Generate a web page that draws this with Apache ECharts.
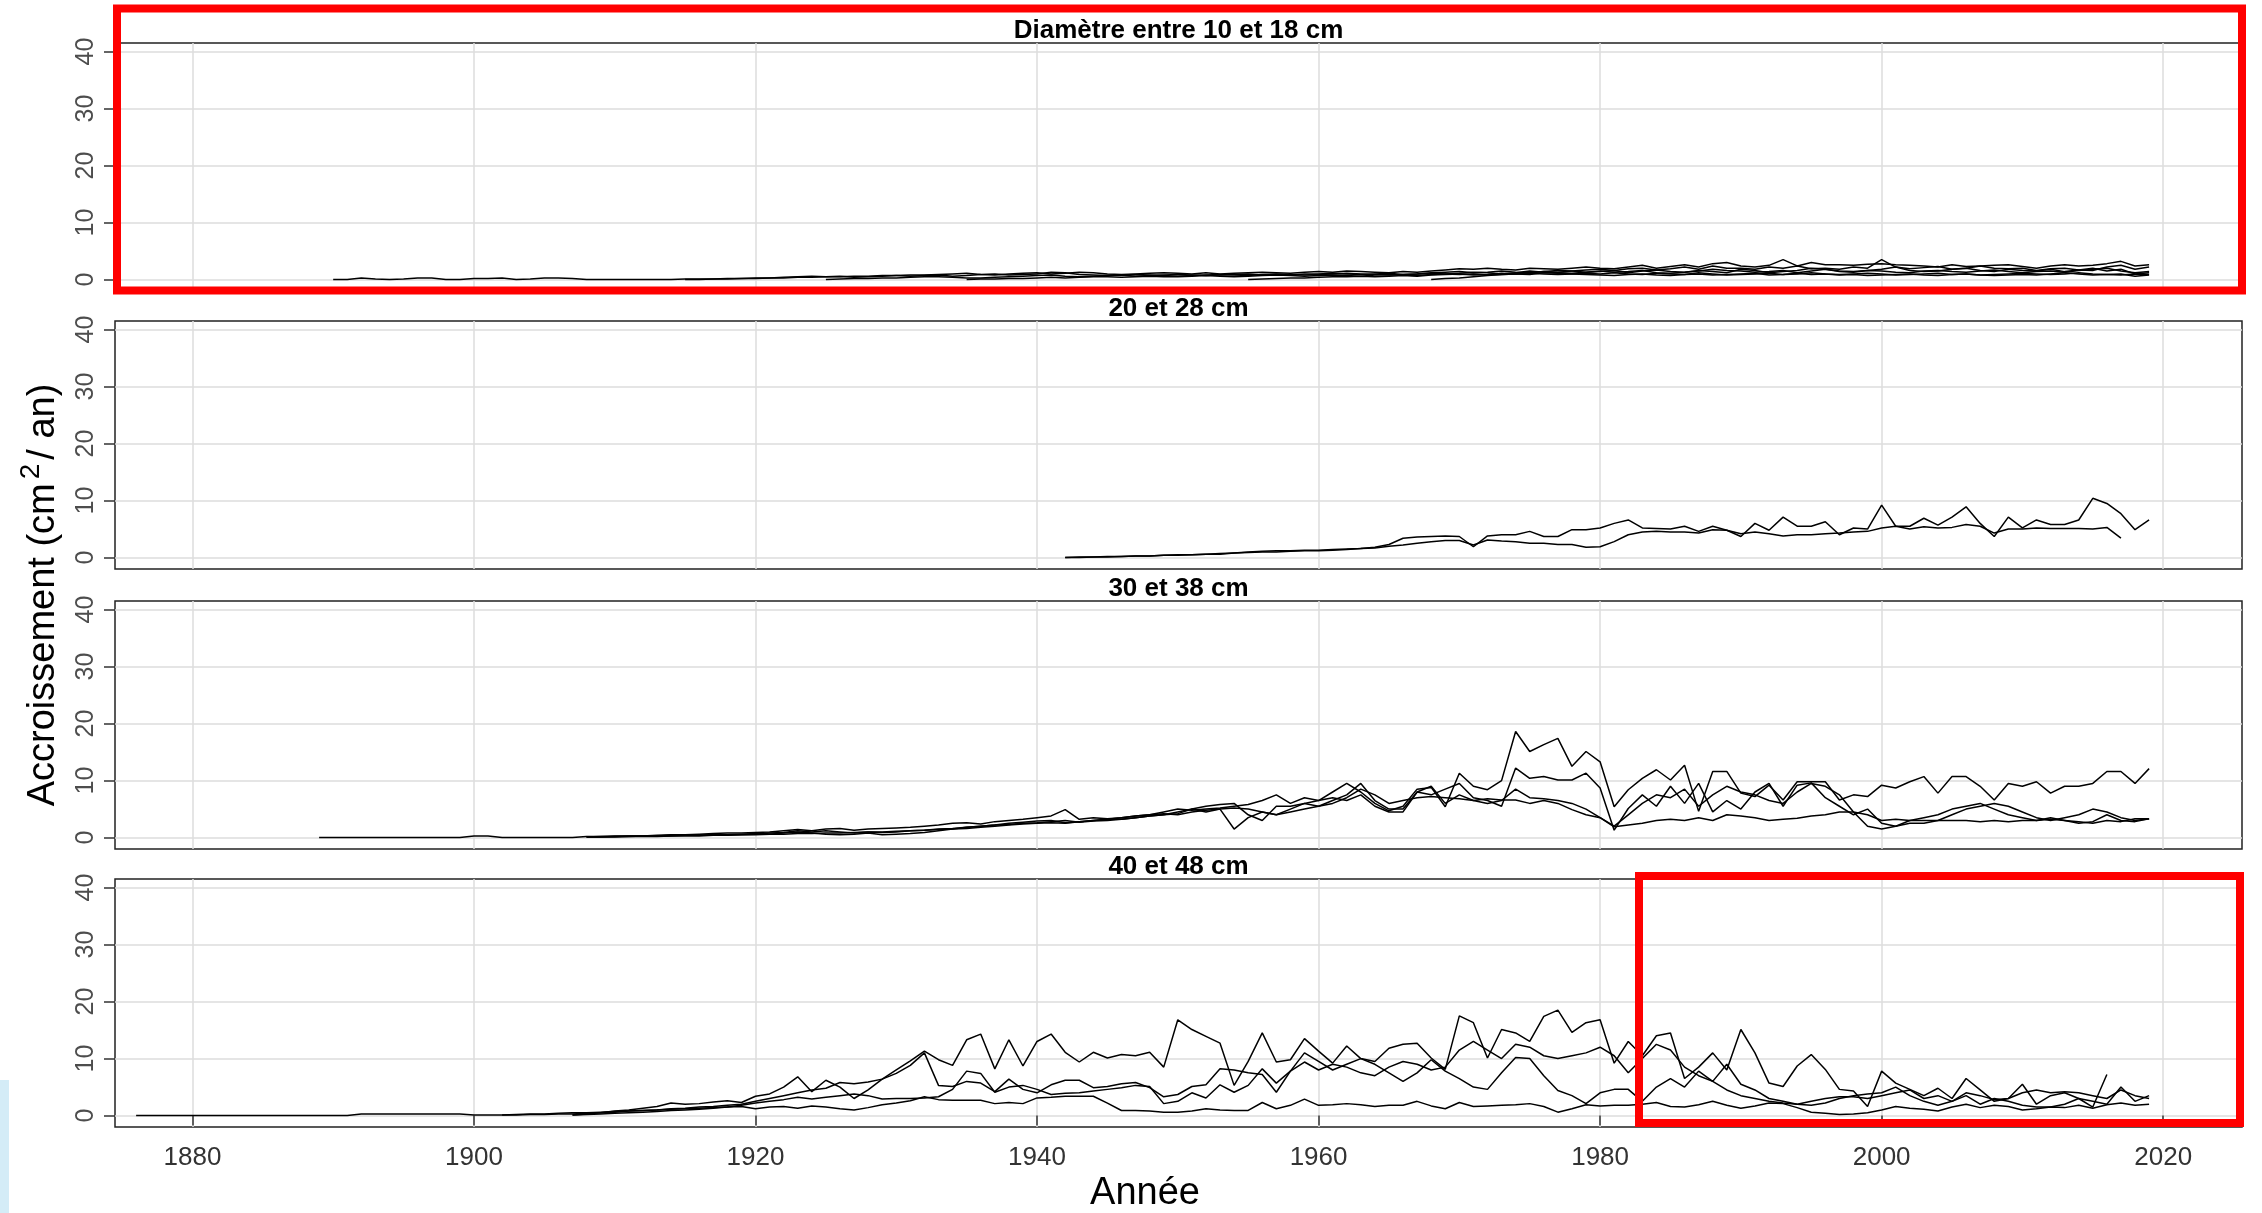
<!DOCTYPE html>
<html>
<head>
<meta charset="utf-8">
<script src="https://cdn.jsdelivr.net/npm/echarts@6/dist/echarts.min.js"></script>
<style>
html,body{margin:0;padding:0;background:#fff;}
#chart{width:2262px;height:1213px;}
</style>
</head>
<body>
<div id="chart"></div>
<script>
// ---------- tick labels & titles ----------
const xTicks = [1880, 1900, 1920, 1940, 1960, 1980, 2000, 2020];
const yTicks = [0, 10, 20, 30, 40];
const panelTitles = ['Diamètre entre 10 et 18 cm', '20 et 28 cm', '30 et 38 cm', '40 et 48 cm'];
const xTitle = 'Année';

// ---------- Panel 1 : 10-18 cm (start years + yearly values) ----------
const p1Starts = [1890, 1915, 1925, 1935, 1955, 1968];
const p1a = [0.0,0.0,0.3,0.1,0.0,0.1,0.3,0.3,0.0,0.0,
  0.2,0.2,0.3,0.0,0.1,0.3,0.3,0.2,0.0,0.0,
  0.0,0.0,0.0,0.0,0.0,0.1,0.1,0.1,0.2,0.2,
  0.3,0.3,0.4,0.5,0.6,0.5,0.6,0.4,0.5,0.6,
  0.7,0.8,0.8,0.9,1.0,1.1,0.9,0.8,1.0,1.1,
  1.2,1.0,1.1,1.3,1.2,1.0,0.9,1.0,1.1,1.2,
  1.1,1.0,1.2,1.0,1.1,1.2,1.3,1.2,1.1,1.3,
  1.4,1.3,1.5,1.4,1.3,1.2,1.4,1.3,1.5,1.7,
  1.9,1.8,2.0,1.8,1.7,2.0,1.9,1.8,2.0,2.2,
  2.0,1.9,2.2,2.5,2.0,2.3,2.6,2.2,2.8,3.0,
  2.4,2.2,2.5,3.5,2.4,3.0,2.6,2.6,2.5,2.7,
  2.8,2.6,2.5,2.4,2.2,2.6,2.3,2.4,2.5,2.6,
  2.3,2.0,2.4,2.6,2.4,2.5,2.8,3.2,2.4,2.6];
const p1b = [0,0,0.1,0.1,0.2,
  0.2,0.3,0.3,0.4,0.4,0.5,0.5,0.6,0.6,0.7,
  0.7,0.6,0.7,0.8,0.6,0.7,0.9,1.0,0.8,0.9,
  1.0,1.3,1.2,0.9,0.8,0.7,0.8,0.6,0.7,0.8,
  0.9,0.8,0.7,0.8,0.9,1.0,0.8,0.9,0.8,1.0,
  1.0,1.1,1.0,0.9,1.0,1.1,0.9,1.0,1.2,1.3,
  1.4,1.2,1.3,1.5,1.3,1.2,1.4,1.6,1.5,1.3,
  1.4,1.6,1.2,1.5,1.7,1.4,1.3,1.5,1.8,1.6,
  1.5,1.3,1.4,1.6,1.2,1.5,1.8,1.4,1.3,1.6,
  1.5,1.3,1.2,1.5,1.6,1.4,1.3,1.5,1.7,1.4,
  1.2,1.4,1.5,1.3,1.6,1.8,2.0,1.5,1.2,1.4];
const p1c = [0,0.1,0.2,0.2,0.3,
  0.3,0.4,0.5,0.5,0.4,0.3,0.3,0.4,0.5,0.6,
  0.7,0.8,0.6,0.5,0.6,0.7,0.8,0.9,0.8,0.7,
  0.6,0.7,0.8,0.9,0.8,0.7,0.9,1.0,0.9,0.8,
  0.9,1.0,1.1,1.0,0.9,0.8,0.9,1.0,1.1,1.0,
  0.9,1.0,0.8,0.9,1.0,1.1,1.0,0.9,1.0,1.1,
  1.0,1.2,1.0,0.9,1.1,1.0,0.9,1.2,1.0,0.8,
  0.9,1.0,1.1,0.9,1.0,1.2,1.0,0.9,1.0,1.1,
  1.0,0.8,0.9,1.0,1.1,0.9,1.0,0.8,0.9,1.0,
  1.1,1.0,0.9,1.0,1.2,1.0,0.9,0.8,1.0,0.9];
const p1d = [0,0.1,0.1,0.2,0.2,
  0.3,0.4,0.3,0.4,0.5,0.5,0.4,0.5,0.6,0.5,
  0.5,0.6,0.7,0.6,0.5,0.6,0.7,0.8,0.7,0.6,
  0.7,0.8,0.7,0.6,0.8,0.9,0.8,0.7,0.9,1.0,
  1.1,1.3,1.2,1.0,1.2,1.5,1.3,1.2,1.1,1.3,
  1.5,1.3,1.4,1.6,1.2,1.1,1.3,1.6,1.4,1.2,
  1.8,1.6,1.2,1.4,1.6,2.0,1.8,1.5,1.4,1.6,
  1.8,2.2,1.6,1.4,1.5,1.8,2.0,1.6,1.4,1.8,
  1.6,1.5,1.8,1.4,1.7,2.0,1.5,1.8,1.0,1.2];
const p1e = [0,0.1,0.2,0.3,0.3,
  0.4,0.5,0.5,0.6,0.5,0.6,0.7,0.6,0.8,0.9,
  1.0,0.8,0.9,1.1,1.0,0.9,1.2,1.1,1.0,0.9,
  0.8,0.7,0.9,1.0,0.8,0.7,0.9,1.0,0.8,0.9,
  1.0,1.1,0.8,0.9,1.1,0.9,1.0,0.8,0.9,0.7,
  0.8,0.9,1.0,0.8,0.7,0.9,1.0,0.8,0.7,0.8,
  0.9,0.8,1.0,1.2,1.0,0.8,0.9,1.0,0.6,0.8];
const p1f = [0,0.2,
  0.3,0.5,0.7,0.9,1.0,1.2,1.4,1.3,1.5,1.7,
  1.8,1.6,1.9,2.0,1.7,1.9,2.2,1.8,2.4,2.0,
  2.0,1.8,2.2,2.0,2.4,1.9,2.0,1.8,2.2,2.0,
  3.5,2.2,1.9,2.1,2.3,1.8,2.0,2.4,2.0,1.9,
  2.0,1.6,1.9,2.0,1.7,1.6,2.2,2.5,1.8,2.2];

// ---------- Panel 2 : 20-28 cm ----------
const p2Starts = [1942, 1942];
const p2a = [0,0.1,0.1,0.2,0.2,0.3,0.3,0.4,
  0.5,0.5,0.6,0.6,0.8,1.0,1.1,1.2,1.2,1.3,
  1.3,1.4,1.5,1.6,1.8,2.3,3.4,3.6,3.7,3.8,
  3.7,1.9,3.8,4.0,4.0,4.6,3.7,3.7,4.9,4.9,
  5.2,6.0,6.6,5.2,5.1,5.0,5.5,4.6,5.5,4.8,
  3.7,6.0,4.8,7.1,5.5,5.5,6.3,4.0,5.2,5.0,
  9.2,5.5,5.5,6.9,5.7,7.1,8.9,6.0,3.7,7.1,
  5.2,6.6,5.8,5.8,6.6,10.4,9.5,7.7,4.9,6.6];
const p2b = [0,0,0.1,0.1,0.2,0.3,0.3,0.4,
  0.4,0.5,0.6,0.7,0.8,0.9,1.0,1.0,1.1,1.2,
  1.2,1.3,1.4,1.6,1.7,2.0,2.2,2.5,2.8,3.0,
  3.0,2.2,3.1,2.9,2.8,2.5,2.5,2.3,2.3,1.8,
  1.9,2.8,4.0,4.5,4.6,4.5,4.5,4.3,4.9,4.8,
  4.2,4.5,4.2,3.8,4.0,4.0,4.2,4.3,4.5,4.6,
  5.2,5.5,5.0,5.4,5.2,5.3,5.8,5.5,4.3,5.0,
  5.0,5.2,5.1,5.1,5.1,5.0,5.3,3.4];

// ---------- Panel 3 : 30-38 cm ----------
const p3Starts = [1908, 1908, 1889, 1908];
const p3a = [0.1,0.2,
  0.2,0.3,0.3,0.4,0.5,0.5,0.6,0.7,0.8,0.8,
  0.9,1.0,1.2,1.4,1.2,1.5,1.6,1.3,1.5,1.6,
  1.7,1.8,2.0,2.2,2.5,2.6,2.4,2.8,3.0,3.2,
  3.5,3.8,4.9,3.2,3.5,3.3,3.5,3.8,4.0,4.5,
  5.0,4.8,5.0,5.2,5.5,5.8,6.5,7.5,6.0,7.0,
  6.5,8.0,9.5,8.0,6.0,4.7,5.5,8.5,8.8,5.4,
  11.3,9.0,8.4,10.0,18.6,15.1,16.3,17.4,12.5,15.1,
  13.3,5.4,8.4,10.4,11.9,10.1,12.7,4.6,11.6,11.6,
  7.8,7.2,9.2,6.6,9.8,9.8,9.8,6.6,7.5,7.2,
  9.2,8.7,9.8,10.7,7.8,10.7,10.7,9.0,6.6,9.5,
  9.0,9.8,7.8,9.0,9.0,9.5,11.6,11.6,9.5,12.1];
const p3b = [0.1,0.1,
  0.2,0.2,0.3,0.3,0.3,0.4,0.4,0.5,0.5,0.6,
  0.7,0.6,0.8,1.0,0.8,0.6,0.5,0.6,0.8,0.5,
  0.6,0.7,0.9,1.2,1.5,1.8,2.0,2.2,2.5,2.7,
  2.9,3.0,2.6,2.8,3.0,3.2,3.2,3.5,3.8,4.0,
  4.5,5.0,4.5,5.0,1.5,3.5,4.5,4.0,5.0,6.0,
  5.5,6.5,7.5,9.5,6.5,5.0,5.0,8.0,7.5,8.5,
  9.5,7.0,6.5,5.5,12.2,10.4,10.7,10.1,10.1,11.3,
  8.7,1.3,5.1,7.5,5.5,9.0,6.0,9.5,4.5,6.5,
  5.0,8.0,9.5,5.5,9.2,9.6,7.0,5.5,4.0,5.0,
  2.5,2.0,3.0,3.5,4.0,5.0,5.5,6.0,5.0,4.0,
  3.5,3.0,3.5,3.0,2.5,2.8,4.0,3.0,2.8,3.3];
const p3c = [0,
  0,0,0,0,0,0,0,0,0,0,
  0.3,0.3,0,0,0,0,0,0,0.2,0.2,
  0.3,0.3,0.3,0.3,0.4,0.4,0.4,0.5,0.5,0.5,
  0.6,0.8,0.9,1.2,1.0,1.2,1.0,0.8,1.0,0.9,
  1.0,1.2,1.3,1.5,1.6,1.8,2.0,2.2,2.3,2.5,
  2.6,2.8,3.0,2.7,2.9,3.0,3.2,3.5,3.8,4.0,
  4.2,5.0,5.5,5.8,6.0,4.0,3.0,5.5,5.5,6.0,
  6.5,7.0,6.5,7.5,5.5,4.5,4.5,8.0,9.0,6.0,
  7.5,6.5,6.0,6.5,8.5,7.0,6.8,6.5,6.0,5.0,
  3.5,2.0,4.0,6.0,7.5,7.0,8.5,5.5,7.5,9.0,
  8.0,7.5,6.5,6.0,8.0,9.5,9.0,7.5,4.5,2.0,
  1.5,2.0,2.5,2.5,3.0,4.0,5.0,5.5,6.0,5.5,
  4.5,3.5,3.0,3.5,4.0,5.0,4.5,3.5,3.0,3.3];
const p3d = [0.1,0.1,
  0.1,0.2,0.2,0.2,0.3,0.3,0.3,0.4,0.4,0.5,
  0.5,0.6,0.6,0.7,0.7,0.8,0.8,0.9,1.0,1.0,
  1.1,1.2,1.3,1.4,1.5,1.6,1.8,2.0,2.2,2.4,
  2.5,2.6,2.5,2.8,3.0,3.2,3.5,3.8,4.0,4.2,
  4.0,4.5,4.8,5.0,5.2,5.0,4.5,4.0,4.5,5.0,
  5.5,6.0,7.0,8.5,7.5,6.0,6.5,7.0,7.2,7.0,
  6.8,6.5,6.8,6.6,6.6,6.0,6.5,6.0,4.9,4.0,
  3.5,1.9,2.2,2.5,3.0,3.2,3.0,3.5,3.0,4.0,
  3.8,3.5,3.0,3.2,3.4,3.8,4.0,4.5,4.5,4.0,
  3.0,3.2,3.0,3.0,3.0,3.0,3.0,2.8,3.0,2.8,
  3.0,3.0,3.2,3.0,2.8,2.5,3.0,2.8,3.3,3.3];

// ---------- Panel 4 : 40-48 cm ----------
const p4Starts = [1876, 1907, 1902, 1907];
const p4a = [0,0,0,0,
  0,0,0,0,0,0,0,0,0,0,
  0,0,0.3,0.3,0.3,0.3,0.3,0.3,0.3,0.3,
  0.1,0.1,0.1,0.2,0.3,0.3,0.4,0.5,0.5,0.6,
  0.7,0.8,0.9,1.0,1.1,1.2,1.3,1.4,1.5,1.6,
  1.2,1.5,1.6,1.3,1.7,1.5,1.2,1.0,1.4,1.9,
  2.2,2.6,3.3,2.8,2.7,2.7,2.7,2.1,2.3,2.1,
  3.1,3.2,3.4,3.4,3.4,2.2,0.9,0.9,0.8,0.6,
  0.6,0.8,1.2,1.0,0.9,0.9,2.3,1.2,1.8,2.9,
  1.8,1.9,2.1,1.9,1.6,1.8,1.8,2.5,1.7,1.2,
  2.3,1.6,1.7,1.8,1.9,2.1,1.6,0.6,1.2,1.9,
  1.7,1.8,1.8,2.0,2.3,1.6,1.5,1.9,2.5,1.8,
  1.3,1.7,2.2,2.1,1.4,0.6,0.4,0.2,0.3,0.5,
  1.0,1.6,1.3,1.1,0.8,1.5,2.0,1.4,1.8,1.6,
  1.0,1.2,1.5,1.4,1.8,1.3,1.9,2.2,1.8,2.0];
const p4b = [0.1,0.3,0.5,
  0.8,1.0,1.3,1.6,2.2,2.0,2.1,2.4,2.6,2.3,
  3.4,3.8,5.0,6.8,4.2,6.2,5.0,3.0,4.5,6.4,
  8.0,9.6,11.3,9.8,8.8,13.3,14.3,8.2,13.3,8.7,
  13.0,14.3,11.1,9.4,11.1,10.1,10.7,10.5,11.1,8.5,
  16.8,15.1,13.9,12.7,5.3,9.5,14.5,9.4,9.8,13.5,
  11.3,9.2,12.2,10.0,9.5,11.8,12.5,12.7,10.1,8.1,
  17.5,16.3,10.1,15.1,14.5,13.0,17.4,18.5,14.6,16.3,
  16.8,9.2,13.0,10.5,14.0,14.5,6.5,8.5,11.0,8.0,
  15.1,11.0,5.7,5.1,8.7,10.7,8.1,4.6,4.3,1.6,
  7.8,5.7,4.6,3.5,4.8,3.0,6.5,4.5,2.5,3.0,
  5.5,2.0,3.5,4.0,3.0,1.5,7.2];
const p4c = [0.1,0.1,0.2,0.2,0.3,0.3,0.4,0.5,
  0.6,0.8,0.9,1.0,1.2,1.3,1.5,1.6,1.8,2.0,
  2.5,3.0,3.5,4.0,4.5,4.8,5.8,5.6,5.9,6.4,
  7.4,8.8,11.0,5.3,5.1,6.0,5.7,4.2,6.4,4.6,
  4.0,5.4,6.2,6.2,4.9,5.1,5.6,5.8,4.9,3.3,
  3.7,5.1,5.4,8.2,8.0,7.5,7.2,4.1,7.8,9.4,
  8.0,9.0,8.5,7.5,7.0,8.5,9.5,9.0,8.0,8.5,
  11.5,13.0,11.5,10.0,12.5,12.0,10.5,10.0,10.5,11.0,
  12.0,10.5,7.5,10.0,12.5,11.5,8.5,7.0,6.0,4.5,
  3.5,3.0,2.5,2.2,2.0,2.5,3.0,3.3,3.3,3.0,
  3.5,4.0,4.5,3.0,3.5,2.5,4.0,3.5,2.8,3.0,
  4.0,4.5,4.0,4.2,4.0,3.5,3.0,4.5,3.5,3.0];
const p4d = [0.1,0.2,0.3,
  0.4,0.5,0.6,0.7,0.9,1.0,1.1,1.3,1.5,1.8,
  2.2,2.5,2.8,3.2,2.9,3.2,3.5,3.8,3.5,2.9,
  3.0,3.0,3.1,3.3,4.6,7.8,7.4,4.1,5.0,5.3,
  4.6,3.7,3.9,4.0,4.3,4.6,4.9,5.3,5.1,2.1,
  2.5,4.0,3.1,5.4,4.1,5.3,8.2,5.7,7.8,11.0,
  9.5,8.0,9.0,10.0,9.0,7.5,6.0,7.5,9.8,7.8,
  6.5,5.0,4.6,7.5,10.2,10.0,7.0,4.4,3.5,2.1,
  4.0,4.6,4.6,2.5,5.0,6.5,5.0,7.8,6.0,9.0,
  5.5,4.5,3.0,2.5,2.0,1.8,2.2,3.0,3.5,3.8,
  4.0,5.0,3.5,2.5,1.8,2.5,3.5,2.0,3.0,2.5,
  1.8,1.5,1.5,2.0,3.0,2.5,2.0,5.0,2.5,3.5];

// ---------- assembly ----------
const panels = [
  {starts: p1Starts, series: [p1a, p1b, p1c, p1d, p1e, p1f]},
  {starts: p2Starts, series: [p2a, p2b]},
  {starts: p3Starts, series: [p3a, p3b, p3c, p3d]},
  {starts: p4Starts, series: [p4a, p4b, p4c, p4d]}
];
const FONT = '"Liberation Sans", Arial, Helvetica, sans-serif';
const tops = [43, 321, 601, 879];
const panelH = 248;
const gridLeft = 115, gridRight = 20;

const toPairs = (start, vals) => vals.map((v, i) => [start + i, v]);

const chart = echarts.init(document.getElementById('chart'), null, {renderer: 'canvas'});

const grids = [], xAxes = [], yAxes = [], series = [], titles = [];
panels.forEach((p, i) => {
  grids.push({left: gridLeft, right: gridRight, top: tops[i], height: panelH,
    show: true, borderColor: '#222', borderWidth: 1.5, backgroundColor: '#fff'});
  const last = i === panels.length - 1;
  xAxes.push({type: 'value', gridIndex: i, min: 1874.5, max: 2025.6,
    axisLine: {show: false},
    axisTick: {show: last, length: 10, customValues: xTicks, lineStyle: {color: '#333', width: 1.5}},
    axisLabel: {show: last, customValues: xTicks, fontSize: 26, color: '#333', margin: 18, fontFamily: FONT,
      formatter: v => String(Math.round(v))},
    splitLine: {show: true, lineStyle: {color: '#dcdcdc', width: 1.5}}});
  yAxes.push({type: 'value', gridIndex: i, min: -2, max: 41.5,
    axisLine: {show: false},
    axisTick: {show: true, length: 11, customValues: yTicks, lineStyle: {color: '#333', width: 1.5}},
    axisLabel: {rotate: 90, customValues: yTicks, fontSize: 25, color: '#4d4d4d', margin: 16, fontFamily: FONT,
      formatter: v => String(Math.round(v))},
    splitLine: {show: true, lineStyle: {color: '#dcdcdc', width: 1.5}}});
  p.series.forEach((vals, k) => {
    series.push({type: 'line', xAxisIndex: i, yAxisIndex: i, symbol: 'none', silent: true,
      lineStyle: {color: '#000', width: 1.5}, data: toPairs(p.starts[k], vals)});
  });
  titles.push({type: 'text', x: gridLeft + (2262 - gridLeft - gridRight) / 2, y: tops[i] - 12,
    style: {text: panelTitles[i], fontSize: 26, fontWeight: 'bold', fontFamily: FONT,
      fill: '#000', textAlign: 'center', textVerticalAlign: 'middle'}});
});

const graphics = titles.concat([
  {type: 'text', x: 40, y: 595, rotation: Math.PI / 2,
    style: {text: '{a|Accroissement (cm}{s|2}{a|/ an)}', fill: '#000',
      textAlign: 'center', textVerticalAlign: 'middle',
      rich: {a: {fontSize: 38, fontFamily: FONT, lineHeight: 46, verticalAlign: 'bottom'},
             s: {fontSize: 28, fontFamily: FONT, lineHeight: 46, verticalAlign: 'top', padding: [0, 4, 0, 4]}}}},
  {type: 'text', x: 1145, y: 1194,
    style: {text: xTitle, fontSize: 38, fontFamily: FONT, fill: '#000',
      textAlign: 'center', textVerticalAlign: 'middle'}},
  // light-blue fragment at the left border of the picture
  {type: 'rect', shape: {x: 0, y: 1080, width: 9, height: 133}, style: {fill: '#d4ecf7'}},
  // red annotation boxes
  {type: 'rect', shape: {x: 117, y: 8.5, width: 2125, height: 282}, style: {fill: 'none', stroke: '#ff0000', lineWidth: 8}, z: 100},
  {type: 'rect', shape: {x: 1639, y: 876, width: 601, height: 247}, style: {fill: 'none', stroke: '#ff0000', lineWidth: 8}, z: 100}
]);

chart.setOption({
  animation: false,
  backgroundColor: '#fff',
  grid: grids,
  xAxis: xAxes,
  yAxis: yAxes,
  series: series,
  graphic: graphics
});
</script>
</body>
</html>
